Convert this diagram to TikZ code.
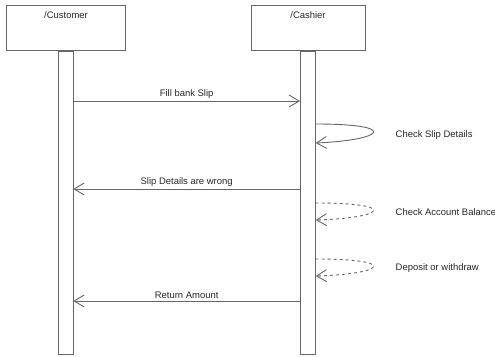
\documentclass[tikz,border=0pt]{standalone}
\usepackage{fontspec}
\setmainfont{Liberation Sans}
\usetikzlibrary{arrows.meta}
\begin{document}
\begin{tikzpicture}[x=1bp,y=-1bp,
    lifebox/.style ={rectangle, draw=black!60, line width=1bp, inner sep=0pt, minimum width=118bp, minimum height=45bp},
    actbar/.style ={rectangle, draw=black!60, line width=1bp, inner sep=0pt, minimum width=15bp, minimum height=303bp},
    msg/.style ={draw=black!60, line width=0.9bp, -{Straight Barb[length=10bp,width=12bp]}},
    msglabel/.style ={font=\fontsize{9.5}{11}\selectfont, text=black!85, inner sep=2bp},
    selflabel/.style ={font=\fontsize{9.5}{11}\selectfont, text=black!85, anchor=west, inner sep=0pt}]
   \useasboundingbox (0,0) rectangle (495,356);
   % lifelines
   \node[lifebox, minimum width=118bp] (customer) at (66,28) {};
   \node[lifebox, minimum width=114bp] (cashier)  at (308,28) {};
   \node[msglabel] at (66,15) {/Customer};
   \node[msglabel] at (308,15) {/Cashier};
   \node[actbar, anchor=north] (custbar) at (65.7,50.7) {};
   \node[actbar, anchor=north, minimum width=15.7bp] (cashbar) at (307.9,50.7) {};
   % message ends
   \coordinate (fillA)  at (73.3,101);
   \coordinate (fillB)  at (300,101);
   \coordinate (wrongA) at (300,189);
   \coordinate (wrongB) at (73.3,189);
   \coordinate (retA)   at (300,301);
   \coordinate (retB)   at (73.3,301);
   \coordinate (slipA)  at (315.7,124);
   \coordinate (slipB)  at (315.7,143);
   \coordinate (balA)   at (315.7,203);
   \coordinate (balB)   at (315.7,220);
   \coordinate (depA)   at (315.7,259);
   \coordinate (depB)   at (315.7,276);
   % messages
   \draw[msg] (fillA) -- node[msglabel, above] {Fill bank Slip} (fillB);
   \draw[msg] (wrongA) -- node[msglabel, above] {Slip Details are wrong} (wrongB);
   \draw[msg] (retA) -- node[msglabel, above] {Return Amount} (retB);
   \draw[msg] (slipA) .. controls (400,124) and (385,140) .. (slipB);
   \draw[msg, dashed] (balA) .. controls (400,203) and (385,218) .. (balB);
   \draw[msg, dashed] (depA) .. controls (400,259) and (385,274) .. (depB);
   \node[selflabel] at (395.5,135) {Check Slip Details};
   \node[selflabel] at (395.5,212) {Check Account Balance};
   \node[selflabel] at (395.5,268) {Deposit or withdraw};
 \end{tikzpicture}
\end{document}
